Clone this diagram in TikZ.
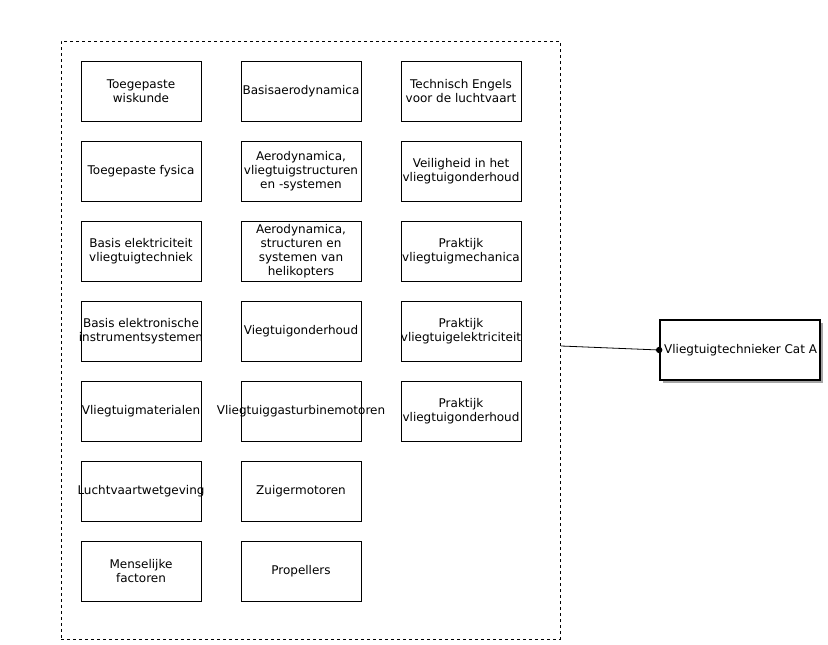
\documentclass[tikz,border=0pt]{standalone}
\usepackage{fontspec}
\setmainfont{DejaVu Sans}
\usetikzlibrary{shadows}
\newcommand{\fit}[1]{\makebox[100pt][c]{#1}}
\begin{document}
\begin{tikzpicture}[x=1pt,y=-1pt,
  box/.style={draw=black,line width=0.8pt,minimum width=120pt,minimum height=60pt,inner sep=0pt,align=center,font=\fontsize{12}{14}\selectfont},
  container/.style={draw=black,dashed,line width=0.8pt,inner sep=0pt},
  target/.style={draw=black,line width=1.6pt,fill=white,minimum width=160pt,minimum height=60pt,inner sep=0pt,
    drop shadow={shadow xshift=2.5pt,shadow yshift=-2.5pt,fill=black,opacity=0.35}},
  link/.style={draw=black,line width=0.8pt}
]
\useasboundingbox (0,0) rectangle (828,645);
\node[container,minimum width=499pt,minimum height=598pt] (cont) at (310.5,340) {};
% column 1
\node[box] (a1) at (141,91) {Toegepaste\\wiskunde};
\node[box] (a2) at (141,171) {Toegepaste fysica};
\node[box] (a3) at (141,251) {Basis elektriciteit\\vliegtuigtechniek};
\node[box] (a4) at (141,331) {\fit{Basis elektronische}\\\fit{instrumentsystemen}};
\node[box] (a5) at (141,411) {\fit{Vliegtuigmaterialen}};
\node[box] (a6) at (141,491) {\fit{Luchtvaartwetgeving}};
\node[box] (a7) at (141,571) {Menselijke\\factoren};
% column 2
\node[box] (b1) at (301,91) {\fit{Basisaerodynamica}};
\node[box] (b2) at (301,171) {Aerodynamica,\\\fit{vliegtuigstructuren}\\en -systemen};
\node[box] (b3) at (301,251) {Aerodynamica,\\structuren en\\systemen van\\helikopters};
\node[box] (b4) at (301,331) {Viegtuigonderhoud};
\node[box] (b5) at (301,411) {\fit{Vliegtuiggasturbinemotoren}};
\node[box] (b6) at (301,491) {Zuigermotoren};
\node[box] (b7) at (301,571) {Propellers};
% column 3
\node[box] (c1) at (461,91) {Technisch Engels\\\fit{voor de luchtvaart}};
\node[box] (c2) at (461,171) {Veiligheid in het\\\fit{vliegtuigonderhoud}};
\node[box] (c3) at (461,251) {Praktijk\\\fit{vliegtuigmechanica}};
\node[box] (c4) at (461,331) {Praktijk\\\fit{vliegtuigelektriciteit}};
\node[box] (c5) at (461,411) {Praktijk\\\fit{vliegtuigonderhoud}};
% target
\node[target] (t) at (740,350) {};
\node[anchor=west,inner sep=0pt,font=\fontsize{12}{14}\selectfont] (tl) at (664,350) {Vliegtuigtechnieker Cat A};
\coordinate (start) at (561,346);
\draw[link] (start) -- (t.west);
\fill (t.west) circle (3.2pt);
\end{tikzpicture}
\end{document}
